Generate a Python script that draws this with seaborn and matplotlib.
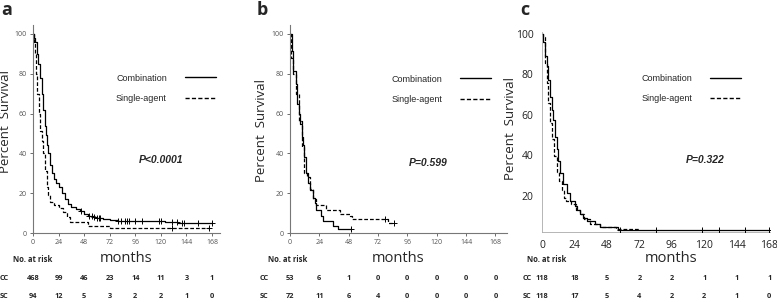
import numpy as np
import matplotlib.pyplot as plt
import matplotlib.transforms as mtransforms
from matplotlib.lines import Line2D
import seaborn as sns

# ---- data ----
months_ticks = [0, 24, 48, 72, 96, 120, 144, 168]

# panel a
a_cc_t = [0, 1, 2, 3.5, 5, 6.5, 8, 9.5, 11, 12, 13, 14, 16, 18, 20, 22, 24, 27, 30, 33, 36, 40, 44, 48, 52, 56, 60, 66, 72, 80, 124, 136, 168]
a_cc_s = [100, 98, 96, 90, 85, 78, 70, 62, 54, 49, 44, 40, 34, 30, 27, 25, 23, 20, 17, 14.5, 13, 12, 11, 9.5, 8.5, 8, 7.5, 7, 6.7, 6, 5.5, 5, 5]
a_cc_cens = [45, 53, 55, 57, 60, 62, 63, 80, 83, 86, 88, 90, 96, 102, 118, 120, 130, 135, 140, 142, 155, 168]
a_sc_t = [0, 1, 2, 3, 4, 5.5, 6.6, 8, 9.7, 11, 12.8, 14, 16, 20, 24, 28, 32, 35, 52, 72, 165]
a_sc_s = [100, 96, 90, 80, 70, 60, 51, 46, 40, 31, 23, 19, 15.5, 14, 12.5, 10.5, 8, 5.7, 3.5, 2.3, 2.3]
a_sc_cens = [130, 165]
a_risk_cc = [468, 99, 46, 23, 14, 11, 3, 1]
a_risk_sc = [94, 12, 5, 3, 2, 2, 1, 0]

# panel b
b_cc_t = [0, 1.4, 2.7, 4.6, 6, 7.3, 8.4, 9.5, 10.5, 11.6, 13, 14.9, 16.2, 18.9, 20.3, 21.6, 25.7, 27, 35, 39, 50]
b_cc_s = [100, 91.5, 81.5, 75, 65, 60, 55, 48, 44, 38, 30, 25, 21.7, 17.5, 15, 11.7, 8.3, 5.8, 3.6, 2, 2]
b_cc_cens = [50]
b_sc_t = [0, 0.8, 2.7, 4.6, 7, 9.5, 11.6, 13.5, 16, 19, 21.6, 29.8, 40.6, 48.7, 51, 80, 85]
b_sc_s = [100, 88, 80, 70, 56.5, 43, 30, 28, 22, 17, 14, 11.7, 9.7, 8.3, 7, 5, 5]
b_sc_cens = [78, 85]
b_risk_cc = [53, 6, 1, 0, 0, 0, 0, 0]
b_risk_sc = [72, 11, 6, 4, 0, 0, 0, 0]

# panel c
c_cc_t = [0, 1, 2.2, 3.4, 4.7, 5.9, 7.1, 8.4, 9.6, 10.8, 12, 13.3, 15.7, 18.2, 20.6, 24.3, 26, 28, 30, 33, 39, 42.6, 56, 168]
c_cc_s = [100, 96, 89, 84, 77, 69, 62.5, 57.6, 49, 43, 37, 31, 26, 21.5, 17.4, 15, 13, 10.8, 9, 7.5, 5.9, 4.3, 3, 3]
c_cc_cens = [58, 84, 118, 131, 150, 168]
c_sc_t = [0, 1, 2.2, 3.4, 4.7, 5.9, 7.1, 9, 10.8, 12.5, 14.5, 16, 18, 21.6, 25, 28, 31, 35.4, 42.6, 55, 72]
c_sc_s = [100, 98.6, 85.5, 75.7, 66, 56, 48, 39.5, 31.5, 27, 23, 19, 17.4, 15.8, 13, 11, 8.5, 6, 4.3, 3.5, 3.5]
c_sc_cens = []
c_risk_cc = [118, 18, 5, 2, 2, 1, 1, 1]
c_risk_sc = [118, 17, 5, 4, 2, 2, 1, 0]

p_labels = ["P<0.0001", "P=0.599", "P=0.322"]
panel_letters = ["a", "b", "c"]

sns.set_style("ticks")
plt.rcParams['font.family'] = ['Open Sans', 'DejaVu Sans']

fig = plt.figure(figsize=(7.77, 3.02), dpi=100)
W, H = 777, 302


def px_axes(x0, x1, ytop, ybot):
    return fig.add_axes([x0 / W, 1 - ybot / H, (x1 - x0) / W, (ybot - ytop) / H])


def step_val(t, s, x):
    i = np.searchsorted(t, x, side='right') - 1
    return np.array(s)[i]


def km(ax, t, s, cens, ls):
    sns.lineplot(x=t, y=s, ax=ax, drawstyle='steps-post', color='black',
                 linewidth=0.9, linestyle=ls, estimator=None, legend=False)
    if cens:
        sns.scatterplot(x=cens, y=step_val(t, s, cens), ax=ax, marker='+',
                        color='black', s=14, linewidth=0.7, legend=False, zorder=3)


ax_a = px_axes(33, 220, 25, 233)
ax_b = px_axes(290, 507, 25, 233)
ax_c = px_axes(542, 770, 32, 232)

panels = [
    (ax_a, a_cc_t, a_cc_s, a_cc_cens, a_sc_t, a_sc_s, a_sc_cens, a_risk_cc, a_risk_sc),
    (ax_b, b_cc_t, b_cc_s, b_cc_cens, b_sc_t, b_sc_s, b_sc_cens, b_risk_cc, b_risk_sc),
    (ax_c, c_cc_t, c_cc_s, c_cc_cens, c_sc_t, c_sc_s, c_sc_cens, c_risk_cc, c_risk_sc),
]

dash = (0, (3, 1.6))
leg_pos = [(0.71, 0.695), (0.697, 0.69), (0.653, 0.717)]
p_pos = [(0.687, 0.35), (0.636, 0.337), (0.715, 0.36)]
ylab_pos = [(-0.112, 0.538), (-0.10, 0.495), (-0.11, 0.52)]
letter_x = [1, 257, 520]
months_x = [126, 398, 671]
norisk_x = [13, 268, 527]
rowlab_x = [0, 260, 523]

for i, (ax, ct, cs, cc, st, ss, sc, rcc, rsc) in enumerate(panels):
    km(ax, ct, cs, cc, '-')
    km(ax, st, ss, sc, dash)
    sns.despine(ax=ax)
    ax.set_xticks(months_ticks)
    ax.set_xlabel('')
    if i < 2:
        ax.set_xlim(0, 175.5 if i == 0 else 177.5)
        ax.set_ylim(0, 104.5)
        ax.set_yticks([0, 20, 40, 60, 80, 100])
        ax.tick_params(labelsize=5, colors='#555555', length=2.5, width=0.6, pad=2)
        for sp in ['left', 'bottom']:
            ax.spines[sp].set_color('#777777')
            ax.spines[sp].set_linewidth(0.8)
    else:
        ax.set_xlim(0, 168.5)
        ax.set_ylim(2, 101)
        ax.set_yticks([20, 40, 60, 80, 100])
        ax.tick_params(labelsize=7.5, colors='#222222', length=0, pad=6)
        for sp in ['left', 'bottom']:
            ax.spines[sp].set_color('#aaaaaa')
            ax.spines[sp].set_linewidth(0.6)
    ax.set_ylabel('Percent  Survival', fontsize=9.5)
    ax.yaxis.set_label_coords(*ylab_pos[i])

    handles = [Line2D([], [], color='black', lw=1.0, ls='-'),
               Line2D([], [], color='black', lw=1.0, ls=dash)]
    ax.legend(handles, ['Combination', 'Single-agent'], loc='center',
              bbox_to_anchor=leg_pos[i], frameon=False, markerfirst=False,
              prop={'family': 'Liberation Sans', 'size': 6.5},
              handlelength=3.4, handletextpad=2.0, labelspacing=1.3)

    ax.text(*p_pos[i], p_labels[i], transform=ax.transAxes, ha='center', va='center',
            fontsize=7.5, fontweight='bold', fontstyle='italic', family='Liberation Sans')

    fig.text(letter_x[i] / W, 1 - 10 / H, panel_letters[i], fontsize=13,
             fontweight='bold', va='center', ha='left')
    fig.text(months_x[i] / W, 1 - 258 / H, 'months', fontsize=10.5,
             ha='center', va='center')
    fig.text(norisk_x[i] / W, 1 - 260 / H, 'No. at risk', fontsize=5.5,
             fontweight='bold', ha='left', va='center')

    tr = mtransforms.blended_transform_factory(ax.transData, fig.transFigure)
    for lab, row, yy in [('CC', rcc, 278), ('SC', rsc, 296)]:
        fig.text(rowlab_x[i] / W, 1 - yy / H, lab, fontsize=5.3, fontweight='bold',
                 ha='left', va='center')
        for m, n in zip(months_ticks, row):
            ax.text(m, 1 - yy / H, str(n), transform=tr, fontsize=5.3,
                    fontweight='bold', ha='center', va='center')

fig.savefig('out.png', dpi=100)
